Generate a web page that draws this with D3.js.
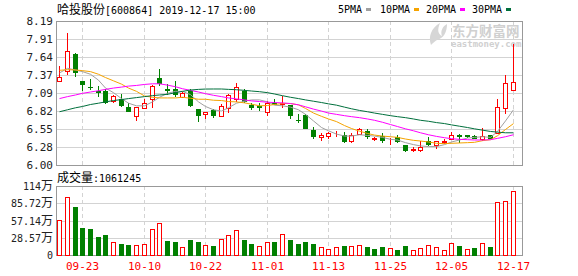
<!DOCTYPE html>
<html>
<head>
<meta charset="utf-8">
<script src="https://cdn.jsdelivr.net/npm/d3@7"></script>
<style>
	body { margin: 0; background: #fff; }
	svg { display: block; }
	text { font-family: "DejaVu Sans Mono", "Liberation Mono", monospace; font-size: 10px; fill: #222; }
	.cjk { font-family: "Noto Sans CJK SC", sans-serif; font-size: 12px; }
</style>
</head>
<body>
<svg id="chart"></svg>
<script>
/* jshint esversion: 6 */
(function(){
	///////////////////////////////////////////////////////////////////
	//// Data /////////////////////////////////////////////////////////
	///////////////////////////////////////////////////////////////////
	const dates = ["09-18","09-19","09-20","09-23","09-24","09-25","09-26","09-27","09-30","10-08",
		"10-09","10-10","10-11","10-14","10-15","10-16","10-17","10-18","10-21","10-22",
		"10-23","10-24","10-25","10-28","10-29","10-30","10-31","11-01","11-04","11-05",
		"11-06","11-07","11-08","11-11","11-12","11-13","11-14","11-15","11-18","11-19",
		"11-20","11-21","11-22","11-25","11-26","11-27","11-28","11-29","12-02","12-03",
		"12-04","12-05","12-06","12-09","12-10","12-11","12-12","12-13","12-16","12-17"];

	const open = [7.28, 7.43, 7.69, 7.28, 7.19, 7.13, 7.13, 6.98, 7.00, 6.88,
		6.75, 6.86, 7.00, 7.33, 7.16, 7.15, 7.04, 7.13, 6.85, 6.78,
		6.84, 6.74, 6.86, 7.01, 7.12, 6.92, 6.90, 6.81, 6.95, 6.93,
		6.91, 6.69, 6.76, 6.53, 6.43, 6.44, 6.45, 6.45, 6.37, 6.47,
		6.51, 6.40, 6.44, 6.36, 6.42, 6.30, 6.23, 6.23, 6.37, 6.30,
		6.35, 6.40, 6.45, 6.46, 6.44, 6.39, 6.45, 6.48, 6.86, 7.14];

	const high = [7.51, 8.01, 7.71, 7.28, 7.31, 7.20, 7.15, 7.07, 7.08, 6.94,
		6.88, 7.00, 7.22, 7.46, 7.23, 7.28, 7.11, 7.15, 6.85, 6.81,
		6.85, 6.93, 7.08, 7.25, 7.16, 6.95, 6.95, 6.97, 7.00, 7.05,
		6.92, 6.77, 6.77, 6.58, 6.48, 6.50, 6.52, 6.50, 6.48, 6.56,
		6.55, 6.43, 6.49, 6.41, 6.46, 6.31, 6.28, 6.36, 6.42, 6.37,
		6.40, 6.50, 6.47, 6.46, 6.45, 6.57, 6.46, 7.00, 7.37, 7.84];

	const low = [7.27, 7.37, 7.34, 7.13, 7.14, 7.04, 6.93, 6.95, 6.88, 6.80,
		6.67, 6.85, 6.86, 7.20, 7.07, 7.04, 7.04, 6.88, 6.66, 6.70,
		6.71, 6.73, 6.79, 6.96, 6.95, 6.83, 6.82, 6.74, 6.91, 6.86,
		6.70, 6.64, 6.54, 6.39, 6.37, 6.40, 6.42, 6.33, 6.33, 6.45,
		6.40, 6.36, 6.34, 6.31, 6.33, 6.20, 6.20, 6.20, 6.29, 6.24,
		6.32, 6.40, 6.34, 6.41, 6.39, 6.37, 6.39, 6.48, 6.77, 7.12];

	const close = [7.34, 7.73, 7.40, 7.22, 7.18, 7.09, 6.95, 7.05, 6.90, 6.81,
		6.88, 6.95, 7.20, 7.23, 7.13, 7.07, 7.09, 6.89, 6.75, 6.81,
		6.74, 6.89, 7.07, 7.18, 6.96, 6.86, 6.86, 6.94, 6.92, 6.94,
		6.74, 6.68, 6.55, 6.43, 6.45, 6.48, 6.46, 6.35, 6.45, 6.55,
		6.42, 6.41, 6.37, 6.37, 6.35, 6.21, 6.25, 6.27, 6.30, 6.36,
		6.37, 6.45, 6.43, 6.43, 6.40, 6.44, 6.39, 6.88, 7.24, 7.26];

	// volume in 万 (10k shares)
	const volume = [58.0, 95.6, 79.5, 44.7, 43.1, 29.8, 33.1, 21.0, 18.2, 16.6,
		16.6, 18.2, 43.1, 52.5, 23.2, 21.5, 12.7, 24.8, 21.5, 16.0,
		14.9, 26.0, 32.6, 41.4, 24.8, 18.2, 14.9, 21.0, 21.5, 34.3,
		24.8, 18.2, 21.5, 18.2, 12.7, 9.9, 12.7, 14.9, 14.9, 16.0,
		13.2, 9.9, 13.2, 11.0, 8.3, 14.9, 8.3, 11.0, 16.0, 12.7,
		8.3, 19.3, 14.9, 9.9, 11.6, 19.3, 13.2, 87.8, 89.4, 106.1245];

	// 1: red (up) volume bar, 0: green
	const volumeUp = [1, 1, 0, 0, 0, 0, 0, 1, 0, 0,
		1, 1, 1, 1, 0, 0, 1, 0, 0, 1,
		0, 1, 1, 1, 0, 0, 1, 1, 0, 1,
		0, 0, 0, 0, 1, 1, 1, 0, 1, 1,
		0, 0, 0, 1, 0, 0, 1, 1, 1, 1,
		1, 1, 0, 1, 0, 1, 0, 1, 1, 1];

	const ma5 = [7.40, 7.47, 7.445, 7.42, 7.38, 7.29, 7.17, 7.10, 7.01, 6.94,
		6.90, 6.90, 6.96, 7.03, 7.09, 7.12, 7.12, 7.07, 6.96, 6.89,
		6.84, 6.82, 6.87, 6.94, 6.97, 6.99, 6.99, 6.96, 6.91, 6.90,
		6.88, 6.84, 6.77, 6.67, 6.57, 6.52, 6.47, 6.44, 6.44, 6.46,
		6.45, 6.44, 6.42, 6.39, 6.38, 6.34, 6.31, 6.29, 6.28, 6.28,
		6.31, 6.35, 6.38, 6.41, 6.42, 6.43, 6.42, 6.51, 6.67, 6.84];

	const ma10 = [7.44, 7.45, 7.445, 7.435, 7.42, 7.38, 7.33, 7.28, 7.23, 7.17,
		7.12, 7.05, 7.03, 7.02, 7.02, 7.02, 7.03, 7.015, 7.00, 7.00,
		6.985, 6.98, 6.965, 6.96, 6.945, 6.925, 6.90, 6.905, 6.92, 6.935,
		6.935, 6.915, 6.86, 6.79, 6.74, 6.70, 6.66, 6.60, 6.555, 6.515,
		6.48, 6.455, 6.44, 6.43, 6.42, 6.395, 6.375, 6.365, 6.35, 6.33,
		6.325, 6.33, 6.335, 6.34, 6.345, 6.37, 6.385, 6.445, 6.54, 6.63];

	const ma20 = [7.01, 7.04, 7.065, 7.09, 7.11, 7.13, 7.15, 7.17, 7.185, 7.20,
		7.21, 7.225, 7.235, 7.235, 7.215, 7.19, 7.16, 7.135, 7.11, 7.085,
		7.06, 7.04, 7.02, 7.005, 6.99, 6.975, 6.965, 6.955, 6.95, 6.945,
		6.935, 6.915, 6.885, 6.85, 6.82, 6.79, 6.77, 6.75, 6.735, 6.72,
		6.70, 6.68, 6.65, 6.615, 6.585, 6.55, 6.52, 6.49, 6.46, 6.435,
		6.415, 6.40, 6.39, 6.385, 6.38, 6.38, 6.385, 6.405, 6.43, 6.46];

	const ma30 = [6.81, 6.84, 6.87, 6.89, 6.92, 6.94, 6.96, 6.98, 6.995, 7.01,
		7.025, 7.04, 7.055, 7.065, 7.075, 7.10, 7.12, 7.14, 7.15, 7.155,
		7.156, 7.156, 7.15, 7.145, 7.135, 7.125, 7.115, 7.10, 7.08, 7.054,
		7.03, 7.01, 6.99, 6.97, 6.95, 6.93, 6.91, 6.88, 6.855, 6.83,
		6.81, 6.79, 6.77, 6.75, 6.735, 6.72, 6.70, 6.68, 6.665, 6.645,
		6.63, 6.61, 6.59, 6.57, 6.55, 6.53, 6.51, 6.50, 6.49, 6.49];

	const priceTickValues = [6.00, 6.27375, 6.5475, 6.82125, 7.095, 7.36875, 7.6425, 7.91625, 8.19];
	const priceTickLabels = ["6.00", "6.28", "6.55", "6.82", "7.09", "7.37", "7.64", "7.91", "8.19"];
	const volumeTickValues = [0, 28.5725, 57.145, 85.7175, 114.29];
	const volumeTickLabels = ["0", "28.57万", "57.14万", "85.72万", "114万"];
	const dateTicks = ["09-23", "10-10", "10-22", "11-01", "11-13", "11-25", "12-05", "12-17"];

	const title = "哈投股份[600864] 2019-12-17 15:00";
	const volumeTitle = "成交量:1061245";
	const maNames = ["5PMA", "10PMA", "20PMA", "30PMA"];

	///////////////////////////////////////////////////////////////////
	//// Set up ///////////////////////////////////////////////////////
	///////////////////////////////////////////////////////////////////
	const width = 578;
	const height = 276;
	const plot = {left: 56, right: 522};
	const pricePanel = {top: 21, bottom: 165};
	const volumePanel = {top: 186, bottom: 255};

	const red = "#ff0000";
	const green = "#008000";
	const gridColor = "#d3d3d3";
	const frameColor = "#999";
	const maColors = ["#a0a0a0", "#f5a300", "#ff00ff", "#006f3c"];

	const svg = d3.select("#chart")
			.attr("width", width)
			.attr("height", height);

	// Scales
	const x = d3.scaleBand()
			.domain(dates)
			.range([plot.left, plot.right - 5]);

	const y = d3.scaleLinear()
			.domain([priceTickValues[0], priceTickValues[priceTickValues.length - 1]])
			.range([pricePanel.bottom, pricePanel.top]);

	const yVol = d3.scaleLinear()
			.domain([0, volumeTickValues[volumeTickValues.length - 1]])
			.range([volumePanel.bottom, volumePanel.top]);

	const cx = d => Math.floor(x(d) + x.step() / 2) + 0.5;
	const crisp = v => Math.round(v) + 0.5;

	// text with CJK runs set in a bigger CJK font
	function mixedText(sel, str) {
		str.match(/[\u3000-\u9fff\uff00-\uffef]+|[^\u3000-\u9fff\uff00-\uffef]+/g)
			.forEach(part => {
				sel.append("tspan")
					.attr("class", /[\u3000-\u9fff]/.test(part) ? "cjk" : null)
					.text(part);
			});
		return sel;
	}

	///////////////////////////////////////////////////////////////////
	//// Grids and frames /////////////////////////////////////////////
	///////////////////////////////////////////////////////////////////
	const grid = svg.append("g").attr("class", "grid");

	grid.selectAll(".price-grid")
		.data(priceTickValues.slice(1, -1))
		.enter().append("line")
			.attr("x1", plot.left)
			.attr("x2", plot.right)
			.attr("y1", d => crisp(y(d)))
			.attr("y2", d => crisp(y(d)))
			.style("stroke", gridColor);

	grid.selectAll(".vol-grid")
		.data(volumeTickValues.slice(1, -1))
		.enter().append("line")
			.attr("x1", plot.left)
			.attr("x2", plot.right)
			.attr("y1", d => crisp(yVol(d)))
			.attr("y2", d => crisp(yVol(d)))
			.style("stroke", gridColor);

	[pricePanel, volumePanel].forEach(p => {
		grid.selectAll(null)
			.data(dateTicks)
			.enter().append("line")
				.attr("x1", d => cx(d))
				.attr("x2", d => cx(d))
				.attr("y1", p.top)
				.attr("y2", p.bottom)
				.style("stroke", gridColor)
				.style("stroke-dasharray", "4,3");

		grid.append("rect")
				.attr("x", plot.left + 0.5)
				.attr("y", p.top + 0.5)
				.attr("width", plot.right - plot.left)
				.attr("height", p.bottom - p.top)
				.style("fill", "none")
				.style("stroke", frameColor);
	});

	///////////////////////////////////////////////////////////////////
	//// Watermark ////////////////////////////////////////////////////
	///////////////////////////////////////////////////////////////////
	const mark = svg.append("g").attr("class", "watermark");
	mark.append("path")
			.attr("d", "M431,45 C428,37 431,28 440,23 C437,30 438,34 442,36 C440,31 443,26 447,24 C447,32 444,38 437,40 C435,41 433,43 431,45 Z")
			.style("fill", "#d6d6d6");
	mark.append("text")
			.attr("x", 452)
			.attr("y", 36)
			.style("font-family", "'Noto Sans CJK SC', sans-serif")
			.style("font-size", "13.5px")
			.style("font-weight", "bold")
			.style("fill", "#d0d0d0")
			.text("东方财富网");
	mark.append("text")
			.attr("x", 451)
			.attr("y", 47)
			.style("font-size", "9px")
			.style("font-weight", "bold")
			.style("fill", "#d0d0d0")
			.text("eastmoney.com");

	///////////////////////////////////////////////////////////////////
	//// Candles //////////////////////////////////////////////////////
	///////////////////////////////////////////////////////////////////
	const candles = dates.map((d, i) => ({
		date: d, o: open[i], h: high[i], l: low[i], c: close[i]
	}));

	const candleG = svg.append("g").attr("class", "candles")
		.selectAll("g")
		.data(candles)
		.enter().append("g");

	candleG.append("line")
			.attr("x1", d => cx(d.date))
			.attr("x2", d => cx(d.date))
			.attr("y1", d => Math.round(y(d.h)))
			.attr("y2", d => Math.round(y(d.l)))
			.style("stroke", d => d.c >= d.o ? red : green);

	candleG.append("rect")
			.attr("x", d => d.c >= d.o ? cx(d.date) - 2 : cx(d.date) - 2.5)
			.attr("y", d => d.c >= d.o ? crisp(y(d.c)) : Math.round(y(d.o)))
			.attr("width", d => d.c >= d.o ? 4 : 5)
			.attr("height", d => {
				const hgt = Math.round(y(Math.min(d.o, d.c))) - Math.round(y(Math.max(d.o, d.c)));
				return d.c >= d.o ? hgt : Math.max(1, hgt);
			})
			.style("fill", d => d.c >= d.o ? "#fff" : green)
			.style("stroke", d => d.c >= d.o ? red : "none");

	///////////////////////////////////////////////////////////////////
	//// Moving averages //////////////////////////////////////////////
	///////////////////////////////////////////////////////////////////
	const line = d3.line()
			.x((d, i) => cx(dates[i]))
			.y(d => y(d));

	svg.append("g").attr("class", "ma-lines")
		.selectAll("path")
		.data([ma5, ma10, ma20, ma30])
		.enter().append("path")
			.attr("d", d => line(d))
			.style("fill", "none")
			.style("stroke", (d, i) => maColors[i])
			.style("stroke-width", 1);

	///////////////////////////////////////////////////////////////////
	//// Volume ///////////////////////////////////////////////////////
	///////////////////////////////////////////////////////////////////
	svg.append("g").attr("class", "volume")
		.selectAll("rect")
		.data(volume)
		.enter().append("rect")
			.attr("x", (d, i) => volumeUp[i] ? cx(dates[i]) - 2 : cx(dates[i]) - 2.5)
			.attr("y", (d, i) => volumeUp[i] ? crisp(yVol(d)) : Math.round(yVol(d)))
			.attr("width", (d, i) => volumeUp[i] ? 4 : 5)
			.attr("height", (d, i) => volumePanel.bottom - Math.round(yVol(d)) + (volumeUp[i] ? 0 : 1))
			.style("fill", (d, i) => volumeUp[i] ? "#fff" : green)
			.style("stroke", (d, i) => volumeUp[i] ? red : "none");

	///////////////////////////////////////////////////////////////////
	//// Axes labels //////////////////////////////////////////////////
	///////////////////////////////////////////////////////////////////
	svg.append("g").attr("class", "y-axis")
		.selectAll("text")
		.data(priceTickValues)
		.enter().append("text")
			.attr("x", plot.left - 3)
			.attr("y", d => y(d) + 4)
			.attr("text-anchor", "end")
			.style("font-size", "11px")
			.text((d, i) => priceTickLabels[i]);

	svg.append("g").attr("class", "vol-axis")
		.selectAll("text")
		.data(volumeTickValues)
		.enter().append("text")
			.attr("x", plot.left - 3)
			.attr("y", d => yVol(d) + 4)
			.attr("text-anchor", "end")
			.each(function(d, i) { mixedText(d3.select(this), volumeTickLabels[i]); });

	svg.append("g").attr("class", "x-axis")
		.selectAll("text")
		.data(dateTicks)
		.enter().append("text")
			.attr("x", d => cx(d))
			.attr("y", 270)
			.attr("text-anchor", "middle")
			.style("font-size", "11px")
			.style("fill", red)
			.text(d => d);

	///////////////////////////////////////////////////////////////////
	//// Titles and legend ////////////////////////////////////////////
	///////////////////////////////////////////////////////////////////
	mixedText(svg.append("text")
			.attr("x", plot.left + 1)
			.attr("y", 14)
			.style("fill", "#000"), title);

	mixedText(svg.append("text")
			.attr("x", plot.left + 1)
			.attr("y", 182)
			.style("fill", "#000"), volumeTitle);

	const legendX = [338, 380, 426, 472];
	const legend = svg.append("g").attr("class", "legend")
		.selectAll("g")
		.data(maNames)
		.enter().append("g")
			.attr("transform", (d, i) => `translate(${legendX[i]}, 0)`);

	legend.append("text")
			.attr("y", 13)
			.style("fill", "#000")
			.text(d => d);

	legend.append("rect")
			.attr("x", d => d.length * 6 + 4)
			.attr("y", 8)
			.attr("width", 5)
			.attr("height", 3)
			.style("fill", (d, i) => maColors[i]);
}());
</script>
</body>
</html>
